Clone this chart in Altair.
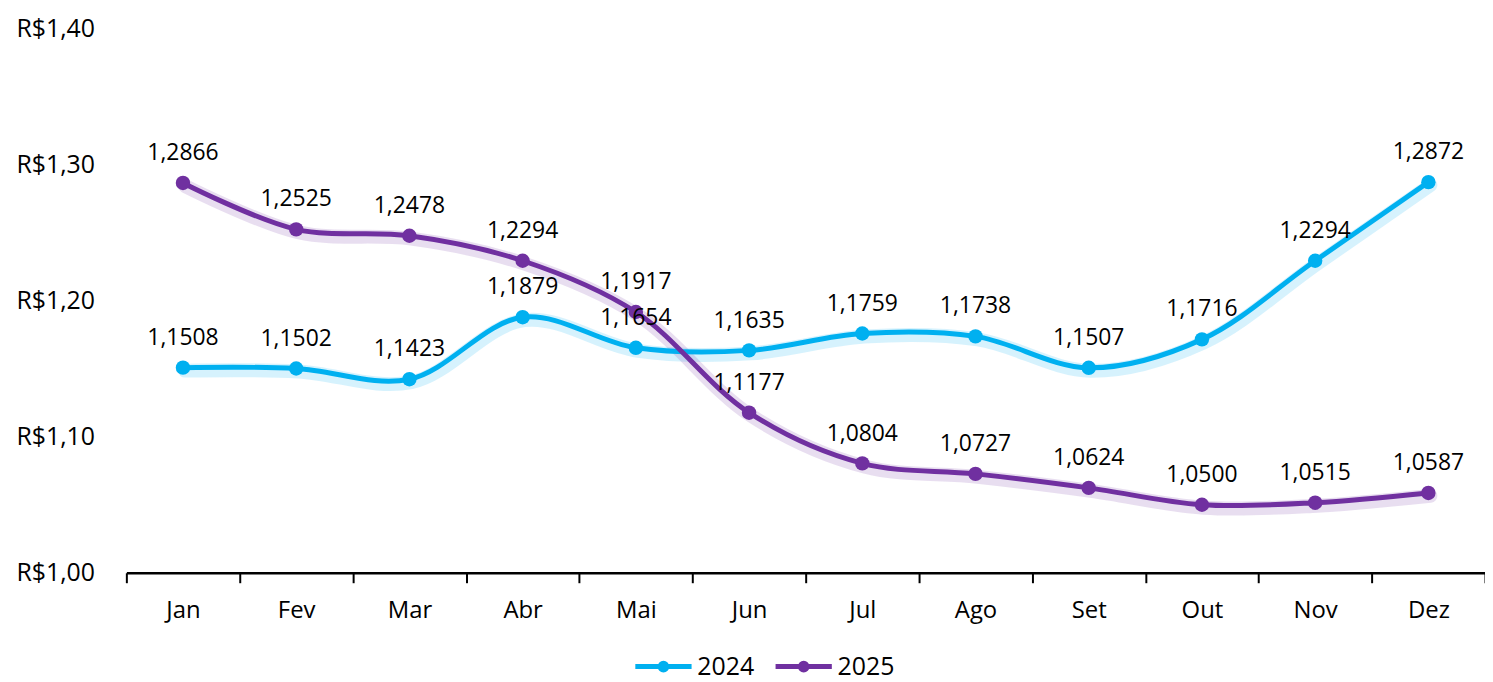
import altair as alt
import pandas as pd

months = ["Jan", "Fev", "Mar", "Abr", "Mai", "Jun", "Jul", "Ago", "Set", "Out", "Nov", "Dez"]
v2024 = [1.1508, 1.1502, 1.1423, 1.1879, 1.1654, 1.1635, 1.1759, 1.1738, 1.1507, 1.1716, 1.2294, 1.2872]
v2025 = [1.2866, 1.2525, 1.2478, 1.2294, 1.1917, 1.1177, 1.0804, 1.0727, 1.0624, 1.0500, 1.0515, 1.0587]
series = ["2024", "2025"]
colors = ["#00B0F0", "#7030A0"]

rows = []
for s, vals in zip(series, [v2024, v2025]):
    for m, v in zip(months, vals):
        rows.append({"mes": m, "ano": s, "valor": v})
df = pd.DataFrame(rows)

FONT = "Open Sans"
FW = 500

x = alt.X("mes:N", sort=months, title=None,
          scale=alt.Scale(paddingInner=0, paddingOuter=0),
          axis=alt.Axis(labelAngle=0, labelFontSize=24, labelColor="black", labelFont=FONT,
                        labelFontWeight=FW,
                        domainColor="black", domainWidth=2.5, tickColor="black", tickWidth=2,
                        tickSize=10, tickBand="extent", labelPadding=16, grid=False))
y = alt.Y("valor:Q", title=None,
          scale=alt.Scale(domain=[1.0, 1.4], nice=False, zero=False),
          axis=alt.Axis(values=[1.0, 1.1, 1.2, 1.3, 1.4], domain=False, ticks=False, grid=False,
                        labelExpr="'R$' + replace(format(datum.value, '.2f'), '.', ',')",
                        labelFontSize=25, labelColor="black", labelFont=FONT, labelFontWeight=FW,
                        labelPadding=32))

path = "M -1 0 L 1 0 M -0.12 0 A 0.12 0.12 0 1 0 0.12 0 A 0.12 0.12 0 1 0 -0.12 0 Z"
legend = alt.Legend(orient="none", legendX=509, legendY=610, direction="horizontal",
                    symbolType=path, symbolSize=3200, symbolStrokeWidth=5,
                    labelFontSize=25, labelFont=FONT, labelFontWeight=FW, labelColor="black",
                    columnPadding=10, labelOffset=3, symbolOpacity=1)
color = alt.Color("ano:N", scale=alt.Scale(domain=series, range=colors), title=None, legend=legend)

base = alt.Chart(df).encode(x=x, y=y, color=color)

glow = base.mark_line(interpolate="catmull-rom", strokeWidth=14, opacity=0.16, strokeCap="round",
                      xOffset=2, yOffset=3)
line = base.mark_line(interpolate="catmull-rom", strokeWidth=5, strokeCap="round")
points = base.mark_point(filled=True, size=210, opacity=1)

labels = alt.Chart(df).mark_text(dy=-23, baseline="alphabetic", fontSize=23, font=FONT,
                                 fontWeight=FW, color="black").encode(
    x=x, y=y, text="lbl:N").transform_calculate(lbl="replace(format(datum.valor, '.4f'), '.', ',')")

chart = alt.layer(glow, line, points, labels).properties(
    width=1366, height=547,
    autosize=alt.AutoSizeParams(type="none"),
    padding={"left": 119, "top": 19, "right": 0, "bottom": 108},
).configure_view(stroke=None)

chart.save("out.html", embed_options={"renderer": "svg", "actions": False})
